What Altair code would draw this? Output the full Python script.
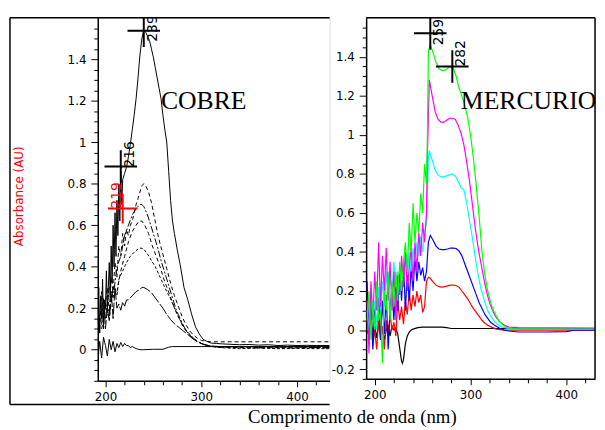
import altair as alt
import pandas as pd

# ---------------- COBRE (left panel) ----------------
cu_main_x = [192,193,194,195,196,197,198,199,200,201,202,203,204,205,206,207,208,209,210,211,212,213,214,215,216,217,218,220,222,224,226,228,230,232,234,236,238,240,242,244,246,248,250,252,254,256,258,260,262,264,266,268,270,272,275,278,282,286,290,294,298,302,306,310,316,322,330,340,350,360,370,380,390,400,410,420,434]
cu_main_y = [0.12,0.3,0.08,0.26,0.15,0.34,0.1,0.24,0.2,0.38,0.18,0.3,0.42,0.25,0.5,0.32,0.6,0.4,0.66,0.45,0.72,0.55,0.8,0.62,0.86,0.7,0.82,0.85,0.88,0.93,0.99,1.06,1.13,1.21,1.31,1.42,1.5,1.54,1.53,1.51,1.49,1.45,1.41,1.36,1.31,1.26,1.21,1.13,1.06,1.0,0.86,0.72,0.62,0.56,0.48,0.41,0.3,0.24,0.17,0.11,0.075,0.05,0.04,0.032,0.03,0.028,0.026,0.024,0.025,0.022,0.024,0.02,0.022,0.02,0.021,0.02,0.02]

cu_79_x = [192,194,196,198,200,202,204,206,208,210,212,214,216,218,220,222,224,226,228,230,232,234,236,238,240,242,245,248,251,254,257,260,264,268,272,276,280,284,288,292,296,300,305,310,320,330,340,360,380,400,420,434]
cu_79_y = [0.2,0.1,0.28,0.15,0.22,0.3,0.18,0.35,0.28,0.42,0.35,0.5,0.45,0.56,0.5,0.58,0.55,0.6,0.62,0.66,0.7,0.73,0.76,0.79,0.8,0.79,0.76,0.71,0.64,0.57,0.51,0.46,0.39,0.32,0.26,0.21,0.16,0.12,0.09,0.07,0.055,0.045,0.04,0.038,0.038,0.038,0.038,0.038,0.038,0.038,0.038,0.038]

cu_70_x = [200,204,208,212,216,220,224,228,232,236,238,240,243,246,250,254,258,262,266,270,274,278,282,286,290,295,300,305,310,320,340,360,380,400,420,434]
cu_70_y = [0.15,0.3,0.25,0.4,0.45,0.55,0.6,0.65,0.68,0.7,0.7,0.69,0.66,0.62,0.56,0.5,0.43,0.37,0.31,0.25,0.19,0.15,0.11,0.08,0.06,0.04,0.03,0.022,0.018,0.015,0.012,0.015,0.012,0.014,0.012,0.012]

cu_62_x = [196,200,204,208,212,216,220,224,228,232,235,238,241,245,249,253,257,261,265,269,273,277,281,285,290,295,300,306,312,320,340,360,380,400,420,434]
cu_62_y = [0.1,0.2,0.15,0.3,0.28,0.38,0.45,0.52,0.57,0.6,0.62,0.62,0.6,0.56,0.5,0.45,0.4,0.34,0.29,0.24,0.19,0.15,0.11,0.085,0.06,0.045,0.03,0.022,0.016,0.012,0.01,0.008,0.01,0.008,0.01,0.008]

cu_49_x = [196,200,204,208,212,214,218,222,226,230,234,237,240,244,248,252,256,260,264,268,272,276,280,284,288,292,296,300,306,312,320,340,360,380,400,420,434]
cu_49_y = [0.15,0.22,0.18,0.3,0.26,0.34,0.38,0.42,0.45,0.47,0.485,0.49,0.485,0.46,0.43,0.4,0.36,0.32,0.28,0.245,0.2,0.16,0.125,0.095,0.075,0.055,0.04,0.03,0.02,0.015,0.01,0.005,0.008,0.005,0.006,0.005,0.005]

cu_30_x = [196,198,200,202,204,206,208,210,212,214,216,218,220,222,224,228,232,236,238,240,244,248,252,256,260,264,268,272,276,280,284,288,292,296,300,305,310,320,340,360,380,400,420,434]
cu_30_y = [0.12,0.25,0.1,0.2,0.14,0.28,0.15,0.3,0.2,0.22,0.19,0.23,0.21,0.24,0.24,0.26,0.28,0.29,0.3,0.3,0.29,0.275,0.25,0.225,0.2,0.17,0.145,0.125,0.11,0.095,0.08,0.065,0.05,0.04,0.03,0.022,0.016,0.012,0.015,0.01,0.014,0.012,0.01,0.01]

cu_base_x = [192,194,196,198,200,202,204,206,208,210,212,214,216,218,220,222,224,226,228,232,236,240,250,260,266,270,280,300,320,340,360,380,400,420,434]
cu_base_y = [-0.06,0.04,-0.04,0.06,0.02,-0.03,0.05,0.0,0.04,-0.01,0.03,0.01,0.035,0.015,0.03,0.02,0.02,0.01,0.015,0.005,0.0,0.0,0.002,0.002,0.012,0.015,0.015,0.015,0.015,0.015,0.015,0.015,0.015,0.015,0.015]

cu_peak_nm = [240, 216, 218]
cu_peak_abs = [1.537, 0.883, 0.68]
cu_peak_lab = ["239", "216", "219"]

# ---------------- MERCURIO (right panel) ----------------
hg_green_x = [192,194,196,198,200,202,204,206,208,210,212,214,216,218,220,222,224,226,228,230,232,234,236,238,240,242,244,246,248,250,252,254,255,256,258,261,264,267,270,273,276,279,282,285,288,291,294,297,300,303,306,309,312,315,318,321,324,327,330,334,338,345,360,434]
hg_green_y = [0.05,0.2,-0.05,0.15,0.0,0.25,0.05,0.1,-0.17,0.2,0.1,0.3,0.05,0.25,0.12,0.3,0.15,0.35,0.2,0.35,0.45,0.3,0.55,0.4,0.65,0.45,0.6,0.5,0.7,0.6,0.85,0.75,1.0,1.43,1.46,1.42,1.37,1.34,1.33,1.33,1.34,1.35,1.34,1.3,1.24,1.2,1.15,1.09,1.0,0.88,0.74,0.58,0.4,0.28,0.2,0.14,0.1,0.07,0.045,0.025,0.012,0.006,0.005,0.005]

hg_mag_x = [192,194,196,198,200,202,204,206,208,210,212,214,216,218,220,222,224,226,228,230,232,234,236,238,240,242,244,246,248,250,252,254,255,257,260,263,266,269,272,275,278,281,284,287,290,293,296,299,302,305,308,311,314,317,320,323,326,330,335,340,350,434]
hg_mag_y = [0.15,-0.12,0.25,0.05,0.3,0.1,0.45,0.12,0.38,0.2,0.42,0.15,0.35,0.1,0.3,0.05,0.28,0.18,0.38,0.22,0.4,0.2,0.32,0.42,0.25,0.45,0.3,0.5,0.38,0.55,0.45,0.6,0.9,1.28,1.2,1.12,1.08,1.065,1.065,1.075,1.085,1.085,1.08,1.05,1.01,0.95,0.86,0.76,0.64,0.52,0.42,0.34,0.26,0.19,0.14,0.1,0.07,0.045,0.025,0.015,0.012,0.01]

hg_cyan_x = [192,194,196,198,200,202,204,206,208,210,212,214,216,218,220,222,224,226,228,230,232,234,236,238,240,242,244,246,248,250,252,254,256,257,260,263,266,269,272,275,278,281,284,287,290,293,296,299,302,305,308,311,314,317,320,324,328,333,340,434]
hg_cyan_y = [0.1,0.0,0.2,0.05,0.15,0.0,0.22,0.1,0.25,0.12,0.3,0.15,0.28,0.2,0.35,0.22,0.3,0.18,0.33,0.25,0.38,0.28,0.4,0.3,0.42,0.35,0.45,0.38,0.48,0.4,0.5,0.55,0.88,0.92,0.87,0.82,0.795,0.785,0.785,0.79,0.795,0.8,0.79,0.765,0.73,0.72,0.65,0.56,0.47,0.37,0.28,0.21,0.16,0.11,0.08,0.05,0.03,0.015,0.008,0.005]

hg_blue_x = [192,194,196,198,200,202,204,206,208,210,212,214,216,218,220,222,224,226,228,230,232,234,236,238,240,242,244,246,248,250,252,254,256,258,261,264,267,270,273,276,279,282,285,288,291,294,297,300,303,306,309,312,315,318,321,325,330,335,340,350,380,400,410,434]
hg_blue_y = [0.25,-0.05,0.15,-0.1,0.12,0.0,0.2,-0.05,0.15,-0.02,0.18,-0.1,0.1,0.22,0.05,0.25,0.1,0.3,0.15,0.35,0.1,0.3,0.15,0.32,0.2,0.38,0.25,0.35,0.28,0.32,0.25,0.3,0.45,0.485,0.46,0.43,0.415,0.412,0.412,0.415,0.42,0.42,0.418,0.405,0.38,0.34,0.3,0.26,0.22,0.18,0.14,0.11,0.08,0.06,0.04,0.025,0.01,0.0,-0.005,-0.01,-0.01,-0.008,0.0,0.0]

hg_red_x = [192,194,196,198,200,202,204,206,208,210,212,214,216,218,220,222,224,226,228,230,232,234,236,238,240,242,244,246,248,250,252,254,256,258,261,264,267,270,273,276,279,282,285,288,291,294,297,300,303,306,309,312,315,318,322,327,335,434]
hg_red_y = [0.05,-0.05,0.1,-0.08,0.0,-0.1,0.05,-0.05,0.02,-0.1,0.05,-0.03,0.08,0.0,0.04,-0.03,0.15,0.05,0.12,0.03,0.15,0.08,0.2,0.1,0.18,0.12,0.2,0.14,0.18,0.09,0.12,0.25,0.27,0.265,0.245,0.23,0.222,0.22,0.222,0.226,0.23,0.23,0.228,0.22,0.2,0.18,0.16,0.135,0.11,0.09,0.07,0.05,0.035,0.025,0.015,0.005,0.0,0.0]

hg_black_x = [192,194,196,198,200,202,204,206,208,210,212,214,216,218,220,222,224,226,228,229,230,232,234,236,238,240,245,250,260,270,275,280,300,350,434]
hg_black_y = [0.0,-0.03,0.04,-0.02,0.02,-0.04,0.03,-0.02,0.01,-0.05,0.0,0.02,-0.03,0.02,0.0,0.01,-0.02,-0.09,-0.16,-0.17,-0.15,-0.07,-0.03,-0.01,0.0,0.005,0.012,0.015,0.015,0.015,0.012,0.008,0.008,0.008,0.008]

hg_peak_nm = [258, 281]
hg_peak_abs = [1.52, 1.35]
hg_peak_lab = ["259", "282"]

# ---------------- helpers ----------------
def curve(xs, ys):
    return pd.DataFrame({"nm": xs, "abs": ys})

major_test_y = "abs(datum.value*5 - round(datum.value*5)) < 0.01"
y_label_expr = major_test_y + " ? '' + round(datum.value*10)/10 : ''"

def y_axis(lo, top):
    vals = [round(lo + 0.05 * i, 2) for i in range(int(round((top - lo) / 0.05)) + 1)]
    return alt.Axis(values=vals, title=None, grid=False, labelExpr=y_label_expr,
                    tickSize={"condition": {"test": major_test_y, "value": 7}, "value": 4},
                    labelFont="DejaVu Sans", labelFontSize=12, labelColor="black",
                    labelPadding=5, labelOverlap=False, labelFlush=False,
                    domainColor="black", domainWidth=1.5, tickColor="black", tickWidth=1)

x_vals = [200, 220, 240, 260, 280, 300, 320, 340, 360, 380, 400, 420]
x_axis = alt.Axis(values=x_vals, title=None, grid=False,
                  labelExpr="datum.value % 100 == 0 ? datum.label : ''",
                  tickSize={"condition": {"test": "datum.value % 100 == 0", "value": 6}, "value": 4},
                  labelFont="DejaVu Sans", labelFontSize=12, labelColor="black",
                  labelPadding=5, labelOverlap=False, labelFlush=False,
                  domainColor="black", domainWidth=1.5, tickColor="black", tickWidth=1)

one = pd.DataFrame({"a": [0]})
plus = "M-1,0L1,0M0,-1L0,1"

# ---------------- left chart ----------------
LW, LH = 235, 368
xL = alt.X("nm:Q", scale=alt.Scale(domain=[192, 434], nice=False, zero=False), axis=x_axis)
yL = alt.Y("abs:Q", scale=alt.Scale(domain=[-0.15, 1.6], nice=False, zero=False), axis=y_axis(-0.15, 1.55))

def lline(xs, ys, dash=None, color="black", width=1.0):
    kw = dict(color=color, strokeWidth=width, clip=True)
    if dash:
        kw["strokeDash"] = dash
    return alt.Chart(curve(xs, ys)).mark_line(**kw).encode(x=xL, y=yL)

left_layers = [
    lline(cu_base_x, cu_base_y),
    lline(cu_30_x, cu_30_y, [12, 2]),
    lline(cu_49_x, cu_49_y, [3, 2]),
    lline(cu_62_x, cu_62_y, [4, 3]),
    lline(cu_70_x, cu_70_y, [7, 2, 2, 2]),
    lline(cu_79_x, cu_79_y, [4, 3]),
    lline(cu_main_x, cu_main_y),
]

cu_pk = pd.DataFrame({"nm": cu_peak_nm, "abs": cu_peak_abs, "lab": cu_peak_lab})
left_layers.append(alt.Chart(cu_pk.iloc[:2]).mark_point(shape=plus, size=1089, strokeWidth=2, color="black", opacity=1, filled=False, clip=True).encode(x=xL, y=yL))
left_layers.append(alt.Chart(cu_pk.iloc[2:]).mark_point(shape=plus, size=900, strokeWidth=2, color="red", opacity=1, filled=False, clip=True).encode(x=xL, y=yL))
left_layers.append(alt.Chart(cu_pk.iloc[0:1]).mark_text(angle=270, align="left", baseline="top", dx=-11, dy=2, font="DejaVu Sans", fontSize=14, color="black", clip=True).encode(x=xL, y=yL, text="lab:N"))
left_layers.append(alt.Chart(cu_pk.iloc[1:2]).mark_text(angle=270, align="left", baseline="top", dx=-1, dy=2, font="DejaVu Sans", fontSize=14, color="black", clip=True).encode(x=xL, y=yL, text="lab:N"))
left_layers.append(alt.Chart(cu_pk.iloc[2:3]).mark_text(angle=270, align="left", baseline="alphabetic", dx=0, dy=-2, font="DejaVu Sans", fontSize=14, color="red", clip=True).encode(x=xL, y=yL, text="lab:N"))

# frame
left_layers.append(alt.Chart(one).mark_rule(color="black", strokeWidth=1.5).encode(x=alt.value(-89), y=alt.value(0), y2=alt.value(392)))
left_layers.append(alt.Chart(one).mark_rule(color="black", strokeWidth=1.5).encode(x=alt.value(-89), x2=alt.value(LW), y=alt.value(0)))
left_layers.append(alt.Chart(one).mark_rule(color="black", strokeWidth=1.5).encode(x=alt.value(-89), x2=alt.value(LW), y=alt.value(392)))

left_layers.append(alt.Chart(one).mark_text(text="COBRE", font="Liberation Serif", fontSize=26, align="left", baseline="alphabetic", color="black").encode(x=alt.value(64), y=alt.value(92)))
left_layers.append(alt.Chart(one).mark_text(text="Absorbance (AU)", font="DejaVu Sans", fontSize=12, angle=270, align="center", baseline="middle", color="red").encode(x=alt.value(-80), y=alt.value(181)))
left_layers.append(alt.Chart(one).mark_text(text="Comprimento de onda (nm)", font="Liberation Serif", fontSize=19, align="center", baseline="alphabetic", color="black").encode(x=alt.value(258), y=alt.value(411)))

left = alt.layer(*left_layers).properties(width=LW, height=LH)

# ---------------- right chart ----------------
RW, RH = 232, 366
xR = alt.X("nm:Q", scale=alt.Scale(domain=[191, 430], nice=False, zero=False), axis=x_axis)
yR = alt.Y("abs:Q", scale=alt.Scale(domain=[-0.25, 1.6], nice=False, zero=False), axis=y_axis(-0.25, 1.55))

def rline(xs, ys, color):
    return alt.Chart(curve(xs, ys)).mark_line(color=color, strokeWidth=1.2, clip=True).encode(x=xR, y=yR)

right_layers = [
    rline(hg_black_x, hg_black_y, "black"),
    rline(hg_red_x, hg_red_y, "#ff0000"),
    rline(hg_blue_x, hg_blue_y, "#0000ff"),
    rline(hg_cyan_x, hg_cyan_y, "#00ffff"),
    rline(hg_mag_x, hg_mag_y, "#ff00ff"),
    rline(hg_green_x, hg_green_y, "#00ff00"),
]
hg_pk = pd.DataFrame({"nm": hg_peak_nm, "abs": hg_peak_abs, "lab": hg_peak_lab})
right_layers.append(alt.Chart(hg_pk).mark_point(shape=plus, size=1089, strokeWidth=2, color="black", opacity=1, filled=False, clip=True).encode(x=xR, y=yR))
right_layers.append(alt.Chart(hg_pk.iloc[0:1]).mark_text(angle=270, align="left", baseline="top", dx=-12, dy=2, font="DejaVu Sans", fontSize=14, color="black", clip=True).encode(x=xR, y=yR, text="lab:N"))
right_layers.append(alt.Chart(hg_pk.iloc[1:2]).mark_text(angle=270, align="left", baseline="top", dx=0, dy=2, font="DejaVu Sans", fontSize=14, color="black", clip=True).encode(x=xR, y=yR, text="lab:N"))
right_layers.append(alt.Chart(one).mark_rule(color="black", strokeWidth=1.5).encode(x=alt.value(0), x2=alt.value(RW), y=alt.value(0)))
right_layers.append(alt.Chart(one).mark_rule(color="black", strokeWidth=1.5).encode(x=alt.value(RW), y=alt.value(0), y2=alt.value(RH)))
right_layers.append(alt.Chart(one).mark_text(text="MERCURIO", font="Liberation Serif", fontSize=26, align="left", baseline="alphabetic", color="black").encode(x=alt.value(96), y=alt.value(93)))

right = alt.layer(*right_layers).properties(width=RW, height=RH)

chart = alt.hconcat(left, right, spacing=37, bounds="flush").properties(
    padding={"left": 0, "top": 5, "right": 0, "bottom": 0}
).configure_view(strokeWidth=0).configure(background="white")

chart.save("out.html", embed_options={"renderer": "svg", "actions": False})
